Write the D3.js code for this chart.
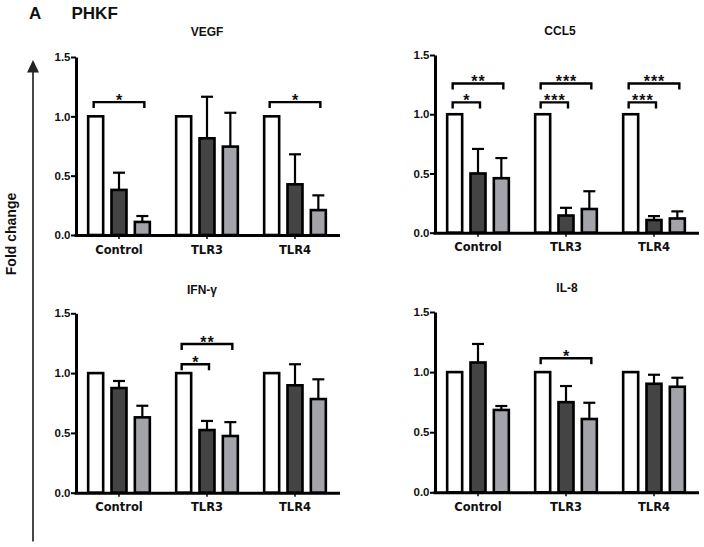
<!DOCTYPE html>
<html>
<head>
<meta charset="utf-8">
<script src="https://cdn.jsdelivr.net/npm/d3@7"></script>
<style>
  html, body { margin: 0; padding: 0; background: #fff; }
  svg { display: block; }
</style>
</head>
<body>
<svg id="chart" width="704" height="547"></svg>
<script>
// ---------------- DATA ----------------
const groups = ["Control", "TLR3", "TLR4"];
const series = ["Untreated", "Treatment 1", "Treatment 2"];
const yTicks = [0, 0.5, 1.0, 1.5];
const panelTitles = ["VEGF", "CCL5", "IFN-\u03b3", "IL-8"];

// means per group: [white, dark, gray]
const vegfMeans = [[1, 0.38, 0.11], [1, 0.815, 0.745], [1, 0.427, 0.21]];
const vegfErr   = [[0, 0.145, 0.05], [0, 0.35, 0.285], [0, 0.253, 0.124]];
const ccl5Means = [[1, 0.50, 0.46], [1, 0.145, 0.20], [1, 0.107, 0.12]];
const ccl5Err   = [[0, 0.207, 0.17], [0, 0.065, 0.15], [0, 0.033, 0.06]];
const ifnMeans  = [[1, 0.875, 0.63], [1, 0.524, 0.474], [1, 0.898, 0.783]];
const ifnErr    = [[0, 0.059, 0.097], [0, 0.076, 0.116], [0, 0.176, 0.165]];
const il8Means  = [[1, 1.08, 0.685], [1, 0.75, 0.61], [1, 0.903, 0.878]];
const il8Err    = [[0, 0.154, 0.033], [0, 0.134, 0.135], [0, 0.075, 0.075]];

// significance brackets: group, from series, to series, y level, label
const vegfSig = [["Control", 0, 2, 1.12, "*"], ["TLR4", 0, 2, 1.12, "*"]];
const ccl5Sig = [["Control", 0, 2, 1.26, "**"], ["Control", 0, 1, 1.10, "*"],
                 ["TLR3", 0, 2, 1.26, "***"], ["TLR3", 0, 1, 1.10, "***"],
                 ["TLR4", 0, 2, 1.26, "***"], ["TLR4", 0, 1, 1.10, "***"]];
const ifnSig  = [["TLR3", 0, 2, 1.243, "**"], ["TLR3", 0, 1, 1.074, "*"]];
const il8Sig  = [["TLR3", 0, 2, 1.115, "*"]];

// ---------------- LAYOUT ----------------
const colors = ["#ffffff", "#444444", "#a2a4a9"];
const panels = [
  { title: panelTitles[0], means: vegfMeans, err: vegfErr, sig: vegfSig, x0: 76,  yTop: 57,    yBot: 235,   tx: 207, ty: 36 },
  { title: panelTitles[1], means: ccl5Means, err: ccl5Err, sig: ccl5Sig, x0: 435, yTop: 55,    yBot: 232.7, tx: 560, ty: 34.5 },
  { title: panelTitles[2], means: ifnMeans,  err: ifnErr,  sig: ifnSig,  x0: 76,  yTop: 313.3, yBot: 492.7, tx: 202, ty: 293.5 },
  { title: panelTitles[3], means: il8Means,  err: il8Err,  sig: il8Sig,  x0: 435, yTop: 312,   yBot: 492.3, tx: 567, ty: 291.5 }
];
const panelW = 264;
const FONT = "Liberation Sans, Arial, sans-serif";

const svg = d3.select("#chart");

// Header
svg.append("text").attr("x", 29).attr("y", 18.5)
  .attr("font-family", FONT).attr("font-weight", "bold")
  .attr("font-size", 17).attr("fill", "#111").text("A");
svg.append("text").attr("x", 71.5).attr("y", 18.5)
  .attr("font-family", FONT).attr("font-weight", "bold")
  .attr("font-size", 17).attr("fill", "#111").text("PHKF");

// Y label + arrow
svg.append("text")
  .attr("transform", "translate(16,234) rotate(-90)")
  .attr("text-anchor", "middle")
  .attr("font-family", FONT).attr("font-weight", "bold")
  .attr("font-size", 14).attr("fill", "#111").text("Fold change");
svg.append("line").attr("x1", 33).attr("x2", 33).attr("y1", 70).attr("y2", 541.5)
  .attr("stroke", "#333").attr("stroke-width", 1.8);
svg.append("path").attr("d", "M27,72.5 L33,60 L39,72.5 Z").attr("fill", "#222");

panels.forEach(p => {
  const g = svg.append("g");
  const y = d3.scaleLinear().domain([0, 1.5]).range([p.yBot, p.yTop]);
  const x = d3.scaleBand().domain(groups).range([p.x0 - 1, p.x0 - 1 + panelW]);
  const xs = d3.scaleBand().domain(d3.range(series.length)).range([-35, 35]);
  const barW = 15;
  const cx = (grp, s) => x(grp) + x.bandwidth() / 2 + xs(s) + xs.bandwidth() / 2;

  // title
  g.append("text").attr("x", p.tx).attr("y", p.ty).attr("text-anchor", "middle")
    .attr("font-family", FONT).attr("font-weight", "bold")
    .attr("font-size", 12).attr("fill", "#111").text(p.title);

  // bars
  groups.forEach((grp, gi) => {
    p.means[gi].forEach((v, si) => {
      const c = cx(grp, si);
      const e = p.err[gi][si];
      if (e > 0) {
        g.append("line").attr("x1", c).attr("x2", c).attr("y1", y(v)).attr("y2", y(v + e))
          .attr("stroke", "#000").attr("stroke-width", 2.2);
        g.append("line").attr("x1", c - 6).attr("x2", c + 6).attr("y1", y(v + e)).attr("y2", y(v + e))
          .attr("stroke", "#000").attr("stroke-width", 2.2);
      }
      g.append("rect").attr("x", c - barW / 2).attr("width", barW)
        .attr("y", y(v)).attr("height", y(0) - y(v))
        .attr("fill", colors[si]).attr("stroke", "#000").attr("stroke-width", 2.6);
    });
  });

  // significance brackets
  p.sig.forEach(([grp, a, b, lvl, lab]) => {
    const xa = cx(grp, a) - 2, xb = cx(grp, b) + 2, yy = y(lvl);
    g.append("path").attr("d", `M${xa},${yy + 6} L${xa},${yy} L${xb},${yy} L${xb},${yy + 6}`)
      .attr("fill", "none").attr("stroke", "#000").attr("stroke-width", 2.4);
    g.append("text").attr("x", (xa + xb) / 2 + 0.5).attr("y", yy + 3.5).attr("text-anchor", "middle")
      .attr("font-family", FONT).attr("font-weight", "bold")
      .attr("font-size", 16).attr("letter-spacing", 1).attr("fill", "#111").text(lab);
  });

  // y axis
  const yAxis = g.append("g").attr("transform", `translate(${p.x0},0)`)
    .call(d3.axisLeft(y).tickValues(yTicks).tickFormat(d3.format(".1f")).tickSize(5).tickSizeOuter(0));
  yAxis.select(".domain").attr("stroke", "#000").attr("stroke-width", 3);
  yAxis.selectAll(".tick line").attr("stroke", "#000").attr("stroke-width", 2);
  yAxis.selectAll(".tick text").attr("x", -5.5).attr("font-family", FONT)
    .attr("font-weight", "bold").attr("font-size", 11.5).attr("fill", "#111");

  // x axis
  const xAxis = g.append("g").attr("transform", `translate(0,${p.yBot})`)
    .call(d3.axisBottom(x).tickSize(4).tickSizeOuter(0));
  xAxis.select(".domain").attr("d", `M${p.x0 - 1.5},0.5H${p.x0 + panelW}`).attr("stroke", "#000").attr("stroke-width", 3);
  xAxis.selectAll(".tick line").attr("stroke", "#000").attr("stroke-width", 1.5);
  xAxis.selectAll(".tick text").attr("y", 18.5).attr("dy", null)
    .attr("font-family", "DejaVu Sans, sans-serif").attr("font-weight", "bold")
    .attr("font-size", 11.5).attr("fill", "#111");
});
</script>
</body>
</html>
